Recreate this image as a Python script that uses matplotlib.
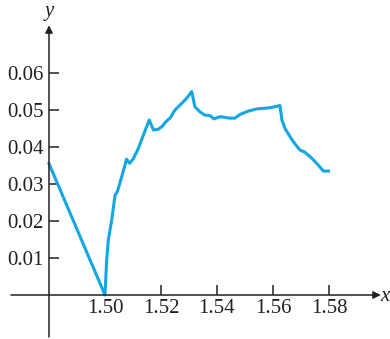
import matplotlib
matplotlib.use("Agg")
import matplotlib.pyplot as plt

# data
x_vals = [1.4800, 1.5000, 1.5006, 1.5012, 1.5024, 1.5036, 1.5044, 1.5060,
          1.5077, 1.5088, 1.5101, 1.5119, 1.5137, 1.5158, 1.5173, 1.5190,
          1.5203, 1.5220, 1.5232, 1.5250, 1.5274, 1.5292, 1.5310, 1.5321,
          1.5339, 1.5357, 1.5375, 1.5389, 1.5411, 1.5446, 1.5464, 1.5482,
          1.5512, 1.5542, 1.5589, 1.5625, 1.5632, 1.5643, 1.5661, 1.5673,
          1.5696, 1.5714, 1.5738, 1.5762, 1.5780, 1.5798]
y_vals = [0.0355, 0.0000, 0.0095, 0.0149, 0.0203, 0.0270, 0.0279, 0.0320,
          0.0367, 0.0356, 0.0368, 0.0396, 0.0432, 0.0473, 0.0446, 0.0448,
          0.0455, 0.0470, 0.0478, 0.0500, 0.0518, 0.0532, 0.0550, 0.0509,
          0.0495, 0.0486, 0.0485, 0.0476, 0.0482, 0.0478, 0.0478, 0.0488,
          0.0497, 0.0503, 0.0506, 0.0512, 0.0473, 0.0450, 0.0428, 0.0414,
          0.0392, 0.0386, 0.0370, 0.0351, 0.0335, 0.0335]

x_ticks = [1.50, 1.52, 1.54, 1.56, 1.58]
x_labels = ["1.50", "1.52", "1.54", "1.56", "1.58"]
y_ticks = [0.01, 0.02, 0.03, 0.04, 0.05, 0.06]
y_labels = ["0.01", "0.02", "0.03", "0.04", "0.05", "0.06"]

axis_col = "#231f20"
line_col = "#14a5e3"
serif = ["Liberation Serif", "DejaVu Serif"]

fig = plt.figure(figsize=(3.9, 3.39), dpi=100)
ax = fig.add_axes([0, 0, 1, 1])
ax.set_xlim(1.4625, 1.6018)
ax.set_ylim(-0.01189, 0.07973)

ax.plot(x_vals, y_vals, color=line_col, lw=2.2, solid_joinstyle="round", zorder=3)

# axes drawn as arrows through the origin point (1.48, 0)
for sp in ax.spines.values():
    sp.set_visible(False)
ax.spines["left"].set_position(("data", 1.48))
ax.spines["bottom"].set_position(("data", 0))
ax.annotate("", xy=(1.5985, 0), xytext=(1.4664, 0),
            arrowprops=dict(arrowstyle="-|>", color=axis_col, lw=1.1,
                            mutation_scale=11, shrinkA=0, shrinkB=0))
ax.annotate("", xy=(1.48, 0.0729), xytext=(1.48, -0.01135),
            arrowprops=dict(arrowstyle="-|>", color=axis_col, lw=1.1,
                            mutation_scale=11, shrinkA=0, shrinkB=0))

ax.set_xticks(x_ticks)
ax.set_xticklabels(x_labels, family=serif, fontsize=15, color=axis_col)
ax.set_yticks(y_ticks)
ax.set_yticklabels(y_labels, family=serif, fontsize=15, color=axis_col)
ax.tick_params(axis="both", direction="in", length=7.5, width=1.1, color=axis_col)
ax.tick_params(axis="x", pad=3)
ax.tick_params(axis="y", pad=4)

ax.text(1.4803, 0.0765, "y", family=serif, style="italic", fontsize=15,
        color=axis_col, ha="center", va="center")
ax.text(1.6000, -0.0003, "x", family=serif, style="italic", fontsize=15,
        color=axis_col, ha="center", va="center")

fig.savefig("out.png", dpi=100)
